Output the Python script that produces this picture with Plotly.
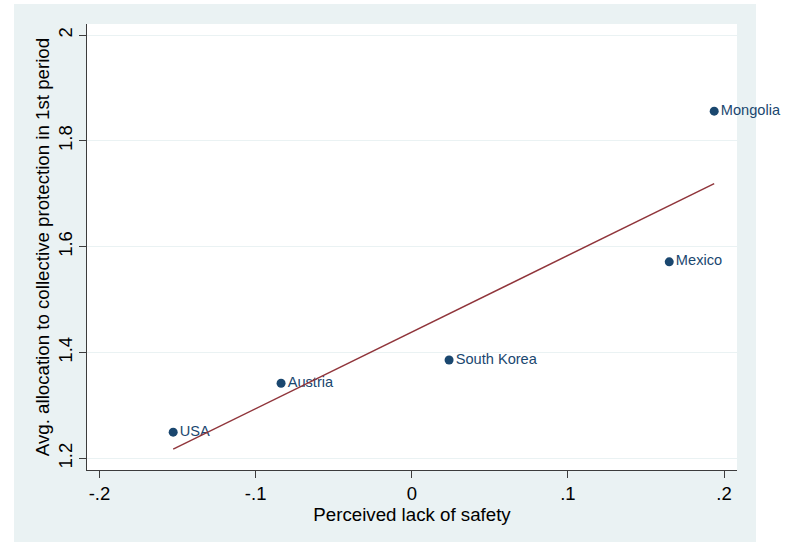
import numpy as np
import plotly.graph_objects as go

countries = ["USA", "Austria", "South Korea", "Mexico", "Mongolia"]
lack_of_safety = [-0.1528, -0.0837, 0.0239, 0.1649, 0.1937]
avg_allocation = [1.2495, 1.342, 1.386, 1.5715, 1.8563]

x_tick_vals = [-0.2, -0.1, 0, 0.1, 0.2]
x_tick_text = ["-.2", "-.1", "0", ".1", ".2"]
y_tick_vals = [1.2, 1.4, 1.6, 1.8, 2.0]
y_tick_text = ["1.2", "1.4", "1.6", "1.8", "2"]

slope, intercept = np.polyfit(lack_of_safety, avg_allocation, 1)
fit_x = [min(lack_of_safety), max(lack_of_safety)]
fit_y = [intercept + slope * v for v in fit_x]

NAVY = "#1A476F"
MAROON = "#90353B"
BG = "#EAF2F3"
AXIS = "#3C3C3C"
FONT = "Liberation Sans, Arial, sans-serif"

fig = go.Figure()
fig.add_trace(go.Scatter(
    x=lack_of_safety, y=avg_allocation, mode="markers+text",
    text=countries, textposition="middle right",
    textfont=dict(color=NAVY, size=14.6, family=FONT),
    marker=dict(color=NAVY, size=9),
    cliponaxis=False, showlegend=False, hoverinfo="skip",
))
fig.add_trace(go.Scatter(
    x=fit_x, y=fit_y, mode="lines",
    line=dict(color=MAROON, width=1.5),
    showlegend=False, hoverinfo="skip",
))

W, H = 790, 542
L, R, T, B = 87, 53, 24, 72
pw, ph = W - L - R, H - T - B

# outer light panel (pixel box 14..756 x 4..542)
fig.add_shape(type="rect", xref="paper", yref="paper",
              x0=(14 - L) / pw, x1=(756 - L) / pw,
              y0=-(H - (T + ph)) / ph, y1=(T + ph - 4) / ph,
              fillcolor=BG, line_width=0, layer="below")
fig.add_shape(type="rect", xref="paper", yref="paper",
              x0=0, x1=1, y0=0, y1=1,
              fillcolor="white", line_width=0, layer="below")

fig.update_layout(
    width=W, height=H,
    margin=dict(l=L, r=R, t=T, b=B),
    paper_bgcolor="white", plot_bgcolor="white",
    font=dict(family=FONT, color="black"),
)
fig.update_xaxes(
    range=[-0.208, 0.2083], tickvals=x_tick_vals, ticktext=x_tick_text,
    showgrid=False, zeroline=False,
    showline=True, linecolor=AXIS, linewidth=1,
    ticks="outside", ticklen=7, tickcolor=AXIS,
    tickfont=dict(size=18.5),
    title=dict(text="Perceived lack of safety", font=dict(size=18.7), standoff=3),
)
fig.update_yaxes(
    range=[1.178, 2.021], tickvals=y_tick_vals, ticktext=y_tick_text,
    showgrid=True, gridcolor=BG, gridwidth=1.3, zeroline=False,
    showline=True, linecolor=AXIS, linewidth=1,
    ticks="outside", ticklen=7, tickcolor=AXIS, tickangle=-90,
    tickfont=dict(size=18.5),
    title=dict(text="Avg. allocation to collective protection in 1st period",
               font=dict(size=18.7), standoff=0),
)

fig.write_html("out.html", config={"displayModeBar": False},
               post_script="document.body.style.margin='0';")
